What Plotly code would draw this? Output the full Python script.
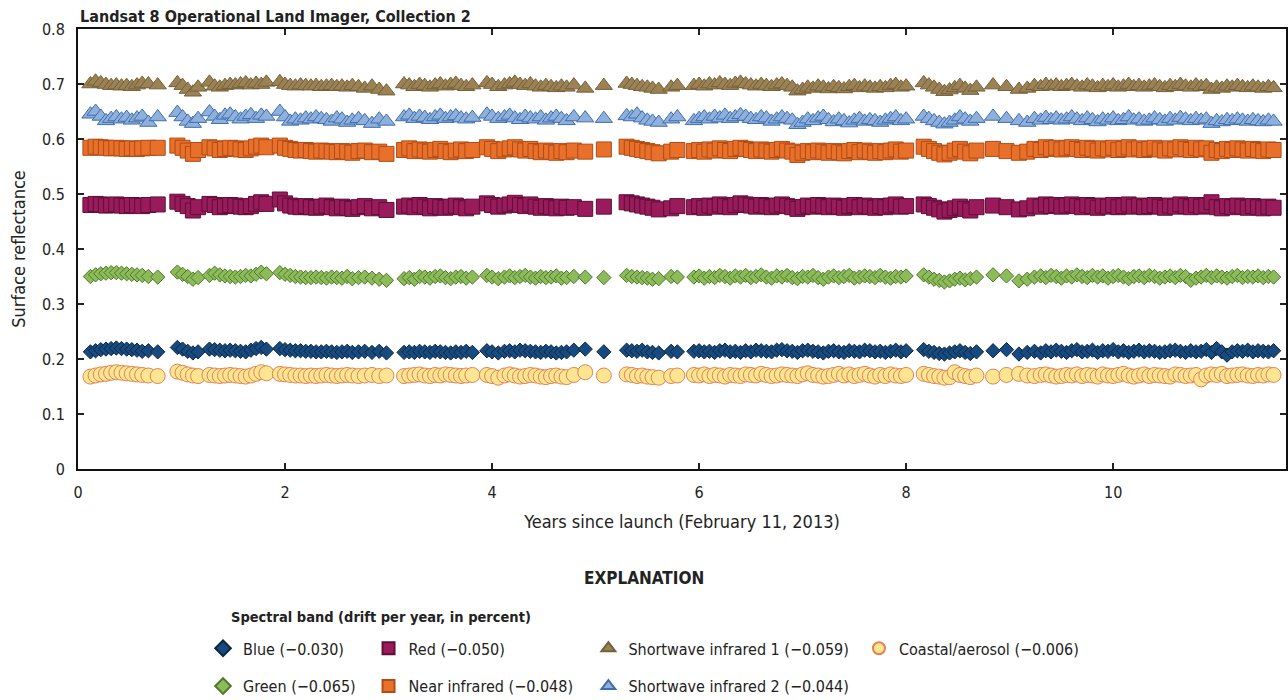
import plotly.graph_objects as go

years = [
    0.12, 0.17, 0.22, 0.27, 0.32, 0.37, 0.42, 0.47, 0.52, 0.57, 0.62, 0.68, 0.77,
    0.96, 1.01, 1.06, 1.11, 1.16,
    1.27, 1.32, 1.37, 1.42, 1.47, 1.52, 1.57, 1.62, 1.67, 1.72, 1.77, 1.82,
    1.95, 2.00, 2.05, 2.10, 2.15, 2.20, 2.25, 2.30, 2.35, 2.40, 2.45, 2.50, 2.55, 2.60, 2.65, 2.71, 2.77, 2.84, 2.91, 2.98,
    3.15, 3.20, 3.25, 3.30, 3.35, 3.40, 3.45, 3.50, 3.55, 3.60, 3.65, 3.70, 3.75, 3.81,
    3.95, 4.00, 4.06, 4.12, 4.17, 4.22, 4.27, 4.32, 4.37, 4.42, 4.47, 4.52, 4.57, 4.62, 4.67, 4.72, 4.79, 4.90, 5.08,
    5.30, 5.35, 5.40, 5.45, 5.50, 5.55, 5.61, 5.73, 5.79,
    5.95, 6.00, 6.05, 6.10, 6.15, 6.20, 6.25, 6.30, 6.35, 6.40, 6.45, 6.50, 6.55, 6.60, 6.65, 6.70, 6.75, 6.80, 6.85, 6.90,
    6.95, 7.00, 7.05, 7.10, 7.15, 7.20, 7.25, 7.30, 7.35, 7.40, 7.45, 7.50, 7.55, 7.60, 7.65, 7.70, 7.75, 7.80, 7.85, 7.90,
    7.95, 8.00,
    8.17, 8.22, 8.27, 8.32, 8.37, 8.42, 8.47, 8.52, 8.57, 8.62, 8.68, 8.84, 8.97, 9.09,
    9.17, 9.24, 9.30, 9.35, 9.40, 9.45, 9.50, 9.55, 9.60, 9.65, 9.70, 9.75, 9.80, 9.85, 9.90, 9.95, 10.00, 10.05, 10.10, 10.15,
    10.20, 10.25, 10.30, 10.35, 10.40, 10.45, 10.50, 10.55, 10.60, 10.65, 10.70, 10.75, 10.80, 10.85, 10.90, 10.95, 11.00, 11.05, 11.10, 11.15,
    11.20, 11.25, 11.30, 11.35, 11.40, 11.45, 11.50, 11.55,
]

blue = [
    .213, .215, .217, .218, .219, .220, .219, .218, .217, .216, .214, .215, .213,
    .221, .218, .214, .211, .213,
    .218, .217, .216, .215, .216, .215, .214, .213, .216, .219, .221, .218,
    .219, .217, .216, .215, .215, .214, .214, .213, .213, .214, .213, .212, .213, .214, .212, .213, .214, .212, .214, .211,
    .212, .213, .212, .214, .213, .212, .214, .213, .212, .211, .213, .212, .214, .212,
    .215, .213, .211, .214, .215, .213, .216, .215, .214, .213, .212, .214, .213, .211, .212, .213, .216, .218, .213,
    .216, .215, .214, .216, .213, .212, .211, .214, .213,
    .214, .215, .213, .214, .212, .215, .216, .213, .214, .212, .215, .213, .216, .215, .214, .213, .216, .217, .215, .214,
    .212, .215, .216, .214, .213, .211, .214, .215, .213, .212, .215, .214, .213, .216, .215, .213, .214, .212, .214, .216,
    .213, .215,
    .217, .214, .212, .210, .209, .211, .213, .215, .212, .210, .213, .215, .217, .209,
    .212, .214, .211, .215, .213, .216, .214, .212, .215, .217, .213, .214, .216, .212, .215, .214, .217, .213, .215, .212,
    .214, .216, .213, .215, .214, .212, .213, .215, .216, .214, .212, .215, .213, .214, .217, .212, .219, .213, .207, .213,
    .215, .214, .216, .213, .215, .214, .213, .215,
]

green = [
    .350, .353, .355, .356, .357, .357, .356, .355, .354, .353, .352, .350, .349,
    .358, .354, .350, .345, .348,
    .352, .356, .353, .351, .350, .349, .350, .352, .351, .354, .358, .355,
    .357, .354, .352, .350, .349, .348, .348, .349, .348, .347, .349, .348, .347, .350, .346, .348, .349, .347, .345, .343,
    .346, .348, .345, .350, .349, .347, .350, .351, .348, .346, .349, .350, .347, .349,
    .352, .349, .346, .349, .351, .348, .350, .352, .349, .347, .350, .348, .349, .351, .347, .348, .350, .349, .348,
    .352, .350, .349, .348, .347, .345, .346, .350, .349,
    .349, .351, .347, .350, .348, .352, .350, .347, .351, .349, .352, .348, .350, .353, .349, .347, .351, .349, .352, .348,
    .346, .350, .349, .352, .348, .345, .349, .351, .348, .350, .352, .347, .349, .351, .350, .348, .352, .349, .347, .350,
    .349, .351,
    .353, .349, .345, .343, .340, .342, .345, .347, .344, .346, .349, .353, .351, .342,
    .345, .349, .351, .348, .352, .350, .347, .351, .349, .353, .350, .348, .352, .349, .351, .347, .350, .352, .349, .346,
    .350, .351, .348, .352, .350, .347, .349, .351, .348, .352, .350, .343, .347, .349, .352, .348, .351, .349, .347, .350,
    .352, .348, .350, .349, .351, .348, .350, .349,
]

red = [
    .480, .482, .481, .479, .480, .481, .479, .478, .480, .479, .478, .480, .481,
    .486, .482, .478, .470, .476,
    .482, .480, .476, .478, .480, .479, .477, .476, .478, .482, .485, .482,
    .490, .483, .479, .477, .476, .478, .476, .475, .477, .479, .476, .474, .477, .475, .473, .476, .478, .474, .476, .471,
    .477, .479, .476, .480, .477, .474, .478, .476, .475, .477, .479, .476, .474, .477,
    .483, .480, .477, .479, .481, .484, .480, .478, .481, .477, .475, .478, .476, .474, .477, .475, .476, .473, .477,
    .485, .483, .481, .479, .477, .475, .472, .474, .478,
    .476, .478, .475, .479, .477, .481, .478, .476, .480, .483, .481, .479, .477, .480, .478, .476, .479, .481, .478, .476,
    .473, .476, .479, .477, .480, .478, .476, .479, .477, .475, .478, .480, .476, .479, .477, .475, .478, .476, .479, .481,
    .477, .478,
    .481, .478, .475, .472, .468, .471, .474, .477, .473, .470, .476, .479, .476, .472,
    .474, .479, .477, .481, .478, .480, .477, .479, .481, .478, .476, .480, .478, .475, .479, .477, .480, .476, .478, .481,
    .477, .479, .476, .478, .480, .477, .475, .479, .477, .481, .478, .476, .480, .477, .479, .485, .476, .474, .478, .476,
    .479, .477, .475, .478, .476, .474, .477, .475,
]

near_infrared = [
    .584, .586, .585, .584, .583, .584, .583, .582, .583, .582, .583, .584, .584,
    .588, .584, .579, .573, .580,
    .585, .583, .580, .582, .584, .583, .581, .580, .583, .586, .588, .585,
    .588, .584, .582, .580, .579, .580, .578, .577, .579, .578, .577, .576, .578, .577, .575, .578, .579, .576, .577, .573,
    .580, .583, .578, .581, .579, .577, .580, .582, .578, .576, .579, .581, .578, .580,
    .585, .582, .578, .581, .583, .585, .581, .579, .582, .578, .576, .579, .577, .575, .578, .576, .579, .577, .581,
    .586, .584, .582, .580, .578, .576, .574, .577, .580,
    .578, .580, .577, .581, .579, .583, .580, .578, .582, .584, .582, .580, .578, .581, .579, .577, .580, .582, .579, .577,
    .571, .575, .578, .576, .579, .577, .575, .578, .576, .574, .578, .580, .576, .579, .577, .575, .578, .576, .579, .581,
    .577, .579,
    .586, .582, .578, .575, .572, .575, .579, .582, .577, .574, .579, .582, .578, .575,
    .577, .582, .580, .585, .582, .584, .581, .583, .585, .582, .580, .584, .582, .579, .583, .581, .584, .580, .582, .585,
    .581, .583, .580, .582, .584, .581, .579, .583, .581, .585, .582, .580, .584, .581, .583, .575, .580, .578, .582, .580,
    .583, .581, .579, .582, .580, .578, .581, .580,
]

swir1 = [
    .700, .705, .702, .699, .697, .698, .696, .697, .695, .698, .701, .700, .698,
    .702, .697, .690, .685, .694,
    .703, .696, .694, .697, .699, .698, .700, .702, .698, .701, .699, .703,
    .704, .699, .697, .696, .698, .697, .696, .697, .695, .696, .697, .695, .696, .694, .697, .695, .692, .696, .690, .687,
    .700, .698, .695, .699, .697, .694, .698, .700, .696, .699, .701, .697, .695, .698,
    .702, .699, .695, .698, .700, .703, .699, .697, .700, .696, .694, .697, .695, .693, .696, .694, .698, .692, .697,
    .701, .699, .697, .695, .694, .692, .690, .694, .697,
    .697, .699, .696, .700, .698, .702, .699, .697, .701, .703, .700, .698, .696, .699, .697, .695, .698, .700, .697, .694,
    .687, .690, .694, .692, .696, .694, .691, .695, .693, .691, .695, .697, .693, .696, .694, .692, .695, .693, .697, .699,
    .694, .696,
    .702, .698, .694, .690, .686, .689, .693, .697, .692, .688, .694, .698, .695, .690,
    .692, .697, .695, .699, .696, .698, .695, .697, .699, .696, .694, .698, .696, .693, .697, .695, .698, .694, .696, .699,
    .695, .697, .694, .696, .698, .695, .693, .697, .695, .699, .696, .694, .698, .695, .697, .690, .694, .692, .696, .694,
    .697, .695, .693, .696, .694, .692, .695, .693,
]

swir2 = [
    .645, .650, .641, .633, .637, .640, .636, .639, .634, .638, .641, .630, .640,
    .648, .640, .632, .628, .637,
    .649, .641, .635, .643, .645, .640, .636, .641, .644, .637, .643, .641,
    .650, .640, .632, .636, .634, .638, .636, .640, .637, .635, .632, .638, .636, .630, .634, .637, .633, .628, .636, .632,
    .640, .643, .637, .641, .639, .635, .640, .643, .637, .640, .642, .638, .636, .639,
    .645, .641, .637, .640, .643, .638, .635, .641, .638, .636, .640, .634, .638, .641, .637, .633, .640, .638, .637,
    .642, .640, .645, .638, .634, .632, .630, .636, .640,
    .633, .637, .640, .636, .641, .638, .643, .637, .640, .644, .641, .637, .635, .640, .638, .632, .636, .640, .637, .634,
    .626, .630, .636, .633, .638, .641, .635, .631, .636, .633, .629, .634, .637, .632, .635, .633, .630, .634, .637, .640,
    .633, .636,
    .641, .637, .633, .630, .627, .630, .634, .640, .636, .632, .637, .641, .637, .633,
    .630, .637, .634, .639, .635, .638, .634, .636, .640, .636, .633, .638, .635, .631, .636, .634, .638, .633, .635, .640,
    .634, .636, .632, .634, .638, .635, .632, .637, .634, .639, .636, .633, .637, .634, .636, .628, .633, .631, .635, .633,
    .636, .634, .632, .635, .633, .631, .634, .632,
]

coastal = [
    .168, .170, .172, .173, .175, .176, .175, .174, .173, .172, .171, .170, .169,
    .177, .175, .172, .170, .169,
    .171, .170, .169, .170, .171, .170, .169, .168, .170, .173, .176, .174,
    .173, .172, .171, .170, .170, .169, .170, .169, .170, .171, .170, .169, .170, .171, .170, .169, .170, .171, .169, .170,
    .169, .170, .171, .172, .170, .169, .171, .170, .172, .171, .170, .169, .170, .171,
    .171, .169, .166, .170, .172, .170, .168, .169, .171, .170, .168, .167, .169, .170, .168, .167, .171, .176, .170,
    .172, .171, .169, .170, .168, .167, .166, .169, .170,
    .171, .170, .172, .169, .171, .170, .168, .171, .170, .169, .172, .171, .170, .173, .171, .169, .170, .172, .171, .170,
    .169, .172, .174, .171, .170, .168, .169, .171, .173, .170, .172, .169, .171, .173, .170, .168, .171, .169, .172, .170,
    .169, .171,
    .173, .171, .169, .168, .166, .167, .176, .171, .169, .167, .170, .168, .171, .173,
    .170, .169, .171, .172, .170, .168, .169, .171, .170, .172, .169, .171, .170, .168, .172, .170, .169, .171, .173, .170,
    .168, .170, .172, .169, .171, .170, .169, .168, .172, .171, .169, .170, .171, .163, .170, .172, .171, .173, .169, .170,
    .171, .172, .170, .169, .171, .170, .172, .171,
]

x_ticks = [0, 2, 4, 6, 8, 10]
y_ticks = [0, 0.1, 0.2, 0.3, 0.4, 0.5, 0.6, 0.7, 0.8]

# name, values, symbol, size, fill, outline, legend
bands = [
    ("Blue (\u22120.030)", blue, "diamond", 11, "#174a7e", "#0b2744", "legend"),
    ("Green (\u22120.065)", green, "diamond", 11, "#8dbb5a", "#4d7a2b", "legend"),
    ("Red (\u22120.050)", red, "square", 15, "#9a1b5c", "#5e0e37", "legend2"),
    ("Near infrared (\u22120.048)", near_infrared, "square", 15, "#e8702a", "#b04c14", "legend2"),
    ("Shortwave infrared 1 (\u22120.059)", swir1, "triangle-up", 15, "#9b8255", "#76603a", "legend3"),
    ("Shortwave infrared 2 (\u22120.044)", swir2, "triangle-up", 15, "#8fb0dc", "#3f6fae", "legend3"),
    ("Coastal/aerosol (\u22120.006)", coastal, "circle", 15, "#fde592", "#e08455", "legend4"),
]

fig = go.Figure()
for i, (name, vals, sym, size, fill, line, leg) in enumerate(bands):
    pairs = list(zip(years, vals))
    fig.add_trace(go.Scatter(
        x=[p[0] for p in pairs], y=[p[1] for p in pairs],
        mode="markers", name=name, legend=leg, legendgroup=f"g{i}",
        marker=dict(symbol=sym, size=size, color=fill, line=dict(color=line, width=1)),
    ))

FONT = "Liberation Sans Narrow, DejaVu Sans Condensed, Roboto Condensed, Arial Narrow, sans-serif"
legend_common = dict(orientation="v", yanchor="top", y=-0.369, xanchor="left",
                     tracegroupgap=14, font=dict(family=FONT, size=16, color="#222"),
                     bgcolor="rgba(0,0,0,0)", itemclick=False, itemsizing="constant")

fig.update_layout(
    width=1288, height=700,
    margin=dict(l=78, r=2, t=29, b=231, autoexpand=False),
    paper_bgcolor="white", plot_bgcolor="white",
    font=dict(family=FONT, size=16, color="#222"),
    showlegend=True,
    legend=dict(x=0.1035, **legend_common),
    legend2=dict(x=0.2405, **legend_common),
    legend3=dict(x=0.4225, **legend_common),
    legend4=dict(x=0.6465, **legend_common),
    xaxis=dict(range=[0, 11.67], tickvals=x_ticks, ticks="inside", ticklen=6, tickwidth=1.5,
               tickcolor="#222", showline=True, linecolor="#111", linewidth=2, mirror="allticks",
               showgrid=False, zeroline=False, tickfont=dict(size=16), ticklabelstandoff=8,
               automargin=False,
               title=dict(text="Years since launch (February 11, 2013)", font=dict(size=18), standoff=14)),
    yaxis=dict(range=[0, 0.8], tickvals=y_ticks, ticks="inside", ticklen=6, tickwidth=1.5,
               tickcolor="#222", showline=True, linecolor="#111", linewidth=2, mirror="allticks",
               showgrid=False, zeroline=False, tickfont=dict(size=16), ticklabelstandoff=8,
               automargin=False,
               title=dict(text="Surface reflectance", font=dict(size=18), standoff=12)),
    annotations=[
        dict(text="<b>Landsat 8 Operational Land Imager, Collection 2</b>", xref="paper", yref="paper",
             x=0, y=1.0, xanchor="left", yanchor="bottom", yshift=1, showarrow=False,
             font=dict(family=FONT, size=16, color="#222")),
        dict(text="<b>EXPLANATION</b>", xref="paper", yref="paper", x=0.4685, y=-0.248,
             xanchor="center", yanchor="middle", showarrow=False,
             font=dict(family=FONT, size=17, color="#222")),
        dict(text="<b>Spectral band (drift per year, in percent)</b>", xref="paper", yref="paper",
             x=0.125, y=-0.336, xanchor="left", yanchor="middle", showarrow=False,
             font=dict(family=FONT, size=14.5, color="#222")),
    ],
)

fig.write_html("out.html", config={"displayModeBar": False},
               post_script="document.body.style.margin='0';")
